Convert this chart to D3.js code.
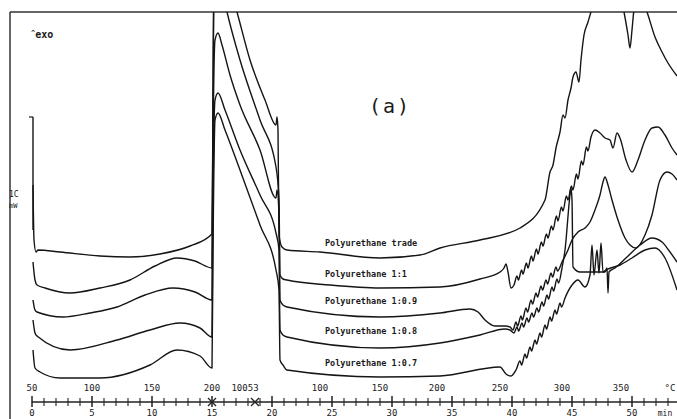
<!DOCTYPE html>
<html>
<head>
<meta charset="utf-8">
<script src="https://cdn.jsdelivr.net/npm/d3@7"></script>
<style>
body { margin: 0; background: #fff; }
text { font-family: "DejaVu Sans Mono", "Liberation Mono", monospace; fill: #1a1a1a; }
</style>
</head>
<body>
<div id="chart"></div>
<script>
// time in seconds, heat flow in mW
var trade = [[5,21.7],[10,16.2],[20,15.0],[30,15.2],[140,15.0],[340,14.6],[490,14.5],[640,14.8],[790,15.6],[900,16.8],
  [905,30.2],[910,45.2],[920,48.2],[965,43.2],[1025,39.0],[1090,34.2],[1165,30.2],[1220,27.7],[1225,28.5],[1230,27.2],
  [1235,16.7],[1250,15.5],[1275,15.2],[1440,15.0],[1740,14.4],[1940,14.7],[2040,15.4],[2240,16.2],[2440,17.4],[2565,20.2],
  [2590,23.0],[2605,23.7],[2620,25.4],[2640,27.0],[2655,28.7],[2665,28.4],[2680,30.2],[2695,31.4],[2705,32.5],[2720,33.0],
  [2735,32.0],[2745,34.2],[2760,36.7],[2780,38.0],[2800,39.4],[2840,43.2],[2915,42.2],[2960,39.0],[2980,36.7],[2990,35.4],
  [3000,37.2],[3010,39.2],[3040,40.7],[3075,39.0],[3115,36.5],[3150,35.0],[3180,33.9],[3225,32.6]];

var pu_1_1 = [[5,14.0],[15,12.2],[25,11.7],[65,11.4],[190,10.9],[340,11.4],[490,12.2],[615,13.6],[725,14.4],[815,14.1],[900,13.4],
  [905,30.2],[910,43.2],[930,44.2],[950,41.2],[975,39.0],[1040,34.2],[1140,28.2],[1220,23.5],[1235,20.2],[1240,12.7],[1255,12.3],
  [1275,12.2],[1490,11.7],[1740,11.4],[2040,11.5],[2240,12.3],[2340,13.0],[2360,13.4],[2370,13.8],[2380,13.0],[2395,11.4],
  [2410,11.7],[2425,12.6],[2432,12.2],[2448,13.2],[2455,12.8],[2472,13.9],[2480,13.4],[2497,14.6],[2505,14.1],[2522,15.3],
  [2530,14.8],[2547,16.0],[2555,15.6],[2572,16.8],[2580,16.4],[2597,17.6],[2605,17.2],[2622,18.6],[2630,18.1],[2647,19.5],
  [2655,19.1],[2672,20.6],[2680,20.2],[2697,21.6],[2705,21.2],[2722,22.8],[2730,22.3],[2747,24.1],[2755,23.7],[2772,25.5],
  [2780,25.1],[2795,26.5],[2815,27.2],[2840,26.9],[2865,26.4],[2890,26.2],
  [2905,25.4],[2925,26.9],[2940,26.4],[2970,24.2],[3000,23.0],[3030,24.2],[3065,26.2],[3100,27.4],[3130,27.5],[3165,26.7],
  [3200,25.4],[3225,24.7]];

var pu_1_09 = [[5,10.2],[15,9.2],[25,9.0],[155,8.5],[290,8.9],[425,9.5],[565,10.7],[705,11.4],[815,11.0],[900,10.2],
  [905,25.2],[915,36.2],[930,36.9],[950,35.7],[990,32.7],[1040,29.7],[1140,25.2],[1220,20.4],[1225,21.2],[1235,18.7],
  [1240,10.2],[1255,9.7],[1275,9.5],[1740,8.5],[2040,8.9],[2190,9.3],[2230,9.0],[2265,8.2],[2315,7.6],[2365,7.6],[2390,7.5],
  [2405,7.2],[2420,8.0],[2428,7.6],[2445,8.6],[2452,8.2],[2470,9.4],[2478,9.0],[2495,10.2],[2503,9.8],[2520,10.9],
  [2528,10.5],[2545,11.6],[2553,11.2],[2570,12.2],[2578,11.8],[2595,12.9],[2603,12.5],[2620,13.5],[2628,13.1],[2650,14.0],
  [2680,15.2],[2700,16.2],[2730,17.0],
  [2765,17.4],[2790,18.0],[2815,19.2],[2840,20.7],[2855,22.0],[2865,22.5],[2880,21.7],[2900,20.2],[2930,18.2],[2965,16.4],
  [2990,15.7],[3020,15.4],[3065,16.7],[3100,18.7],[3140,22.2],[3175,23.0],[3200,22.8],[3225,22.2]];

var pu_1_08 = [[5,8.2],[15,6.9],[25,6.6],[190,5.2],[425,6.2],[590,7.2],[740,7.9],[840,7.4],[900,6.5],
  [905,20.2],[915,30.2],[930,30.9],[965,29.2],[1040,25.2],[1140,20.7],[1220,16.9],[1235,15.2],[1240,7.2],[1255,6.7],
  [1275,6.5],[1740,5.4],[2040,5.9],[2240,6.7],[2365,7.3],[2390,7.2],[2410,6.9],[2425,7.5],[2433,7.1],[2450,7.9],[2458,7.5],
  [2475,8.4],[2483,8.0],[2500,8.9],[2508,8.5],[2525,9.4],[2533,9.0],[2550,10.0],[2558,9.6],[2575,10.7],[2583,10.3],
  [2600,11.5],[2608,11.1],[2625,12.3],[2633,11.9],[2650,13.4],[2665,15.2],[2690,20.7],[2695,21.4],[2700,20.2],[2705,13.5],
  [2740,13.0],[2815,13.0],[2865,13.0],
  [2875,13.4],[2880,10.9],[2885,13.0],[2915,13.4],[2975,14.5],[3040,15.7],[3100,16.4],[3150,16.0],[3190,15.0],[3225,14.0]];

var pu_1_07 = [[5,5.2],[15,3.4],[40,3.0],[140,2.4],[340,2.4],[590,3.7],[725,5.2],[840,4.6],[900,3.4],
  [905,15.2],[915,28.2],[930,28.9],[965,27.2],[1040,23.2],[1140,17.7],[1220,13.2],[1235,11.2],[1240,4.2],[1255,3.7],
  [1275,3.2],[1740,2.5],[2040,2.6],[2340,3.5],[2370,2.8],[2395,2.6],[2420,3.2],[2440,4.1],[2448,3.7],[2465,4.8],[2473,4.4],
  [2490,5.5],[2498,5.1],[2515,6.2],[2523,5.8],[2540,6.9],[2548,6.5],[2565,7.7],[2573,7.3],[2590,8.5],[2598,8.1],
  [2615,9.2],[2623,8.8],[2640,9.9],[2648,9.5],[2665,10.4],[2700,11.7],[2730,12.2],[2765,11.5],[2790,12.7],[2800,15.7],
  [2810,12.7],[2825,15.2],[2835,12.9],
  [2845,15.9],[2855,13.0],[2870,13.2],[2940,13.7],[3000,14.4],[3065,15.2],[3115,15.4],[3165,14.4],[3225,11.2]];

var series = [trade, pu_1_1, pu_1_09, pu_1_08, pu_1_07];
var seriesNames = ['Polyurethane trade', 'Polyurethane 1:1', 'Polyurethane 1:0.9', 'Polyurethane 1:0.8', 'Polyurethane 1:0.7'];

var minuteTicks = d3.range(0, 54);
var minuteLabels = [0, 5, 10, 15, 20, 25, 30, 35, 40, 45, 50];
var tempLabels = ['50', '100', '150', '200', '10053', '100', '150', '200', '250', '300', '350', '°C'];
var tempLabelTimes = [0, 300, 600, 900, 1065, 1440, 1740, 2025, 2340, 2650, 2945, 3190];
var scaleBar = [17.2, 28.5];

var width = 677;
var height = 419;

var svg = d3.select('#chart').append('svg')
            .attr('width', width)
            .attr('height', height);

var x = d3.scaleLinear().domain([0, 3000]).range([32, 632]);
var y = d3.scaleLinear().domain([0, 39]).range([402, 12]);

svg.append('defs').append('clipPath')
   .attr('id', 'plot')
   .append('rect')
   .attr('x', 10).attr('y', 12)
   .attr('width', width - 10).attr('height', 390);

// frame
svg.append('line').attr('x1', 10).attr('x2', 10).attr('y1', 12).attr('y2', height)
   .attr('stroke', '#333').attr('stroke-width', 1.5);
svg.append('line').attr('x1', 10).attr('x2', width).attr('y1', 12).attr('y2', 12)
   .attr('stroke', '#333').attr('stroke-width', 1.5);

var line = d3.line()
             .x(function(d){return x(d[0]);})
             .y(function(d){return y(d[1]);})
             .curve(d3.curveMonotoneX);

svg.append('g').attr('clip-path', 'url(#plot)')
   .selectAll('path.curve')
   .data(series)
   .enter()
   .append('path')
   .attr('class', 'curve')
   .attr('d', line)
   .attr('fill', 'none')
   .attr('stroke', '#151515')
   .attr('stroke-width', 1.4)
   .attr('stroke-linejoin', 'round');

// labels sit a little above their curve at t = 1465 s
function valueAt(data, t){
    var i = d3.bisector(function(d){return d[0];}).left(data, t);
    var a = data[i - 1], b = data[i];
    return a[1] + (b[1] - a[1]) * (t - a[0]) / (b[0] - a[0]);
}

svg.selectAll('text.name')
   .data(series)
   .enter()
   .append('text')
   .attr('class', 'name')
   .attr('x', x(1465))
   .attr('y', function(d){return y(valueAt(d, 1465)) - 7;})
   .attr('font-size', 8.5)
   .attr('font-weight', 'bold')
   .attr('fill', '#444')
   .text(function(d, i){return seriesNames[i];});

// scale bar
svg.append('line')
   .attr('x1', x(5)).attr('x2', x(5))
   .attr('y1', y(scaleBar[1])).attr('y2', y(scaleBar[0]))
   .attr('stroke', '#151515').attr('stroke-width', 1.4);
svg.append('line')
   .attr('x1', x(5) - 4).attr('x2', x(5))
   .attr('y1', y(scaleBar[1])).attr('y2', y(scaleBar[1]))
   .attr('stroke', '#151515').attr('stroke-width', 1.2);
svg.append('text').attr('x', 9).attr('y', 197).attr('font-size', 8).text('1C');
svg.append('text').attr('x', 9).attr('y', 208).attr('font-size', 7).text('mW');

var exo = svg.append('text').attr('x', 31).attr('y', 38).attr('font-size', 10).attr('font-weight', 'bold');
exo.append('tspan').attr('font-size', 7).attr('dy', -3).text('^');
exo.append('tspan').attr('dy', 3).text('exo');

svg.append('text')
   .attr('x', 390).attr('y', 113)
   .attr('text-anchor', 'middle')
   .attr('font-size', 20)
   .attr('letter-spacing', 2)
   .text('(a)');

// time axis
var axisY = 402;
svg.append('line')
   .attr('x1', x(0)).attr('x2', width)
   .attr('y1', axisY).attr('y2', axisY)
   .attr('stroke', '#222').attr('stroke-width', 1.5);

svg.selectAll('line.tick')
   .data(minuteTicks)
   .enter()
   .append('line')
   .attr('class', 'tick')
   .attr('x1', function(d){return x(d * 60);})
   .attr('x2', function(d){return x(d * 60);})
   .attr('y1', function(d){return d % 5 === 0 ? axisY - 6 : axisY - 4;})
   .attr('y2', function(d){return d % 5 === 0 ? axisY + 5 : axisY + 4;})
   .attr('stroke', '#222')
   .attr('stroke-width', function(d){return d % 5 === 0 ? 1.5 : 1.1;});

svg.selectAll('text.minute')
   .data(minuteLabels)
   .enter()
   .append('text')
   .attr('class', 'minute')
   .attr('x', function(d){return x(d * 60);})
   .attr('y', 416)
   .attr('text-anchor', 'middle')
   .attr('font-size', 9)
   .attr('fill', '#444')
   .text(function(d){return d;});

svg.append('text').attr('x', x(3165)).attr('y', 416).attr('text-anchor', 'middle')
   .attr('font-size', 8).attr('fill', '#444').text('min');

svg.selectAll('text.temp')
   .data(tempLabels)
   .enter()
   .append('text')
   .attr('class', 'temp')
   .attr('x', function(d, i){return x(tempLabelTimes[i]);})
   .attr('y', 391)
   .attr('text-anchor', 'middle')
   .attr('font-size', 9)
   .attr('fill', '#333')
   .text(function(d){return d;});

// segment markers on the axis
svg.selectAll('path.mark')
   .data([900, 1115])
   .enter()
   .append('path')
   .attr('class', 'mark')
   .attr('d', function(d){
       var cx = x(d);
       return 'M' + (cx - 4) + ',' + (axisY - 4) + 'L' + (cx + 4) + ',' + (axisY + 4) +
              'M' + (cx + 4) + ',' + (axisY - 4) + 'L' + (cx - 4) + ',' + (axisY + 4);
   })
   .attr('stroke', '#222')
   .attr('stroke-width', 1.3);
</script>
</body>
</html>
